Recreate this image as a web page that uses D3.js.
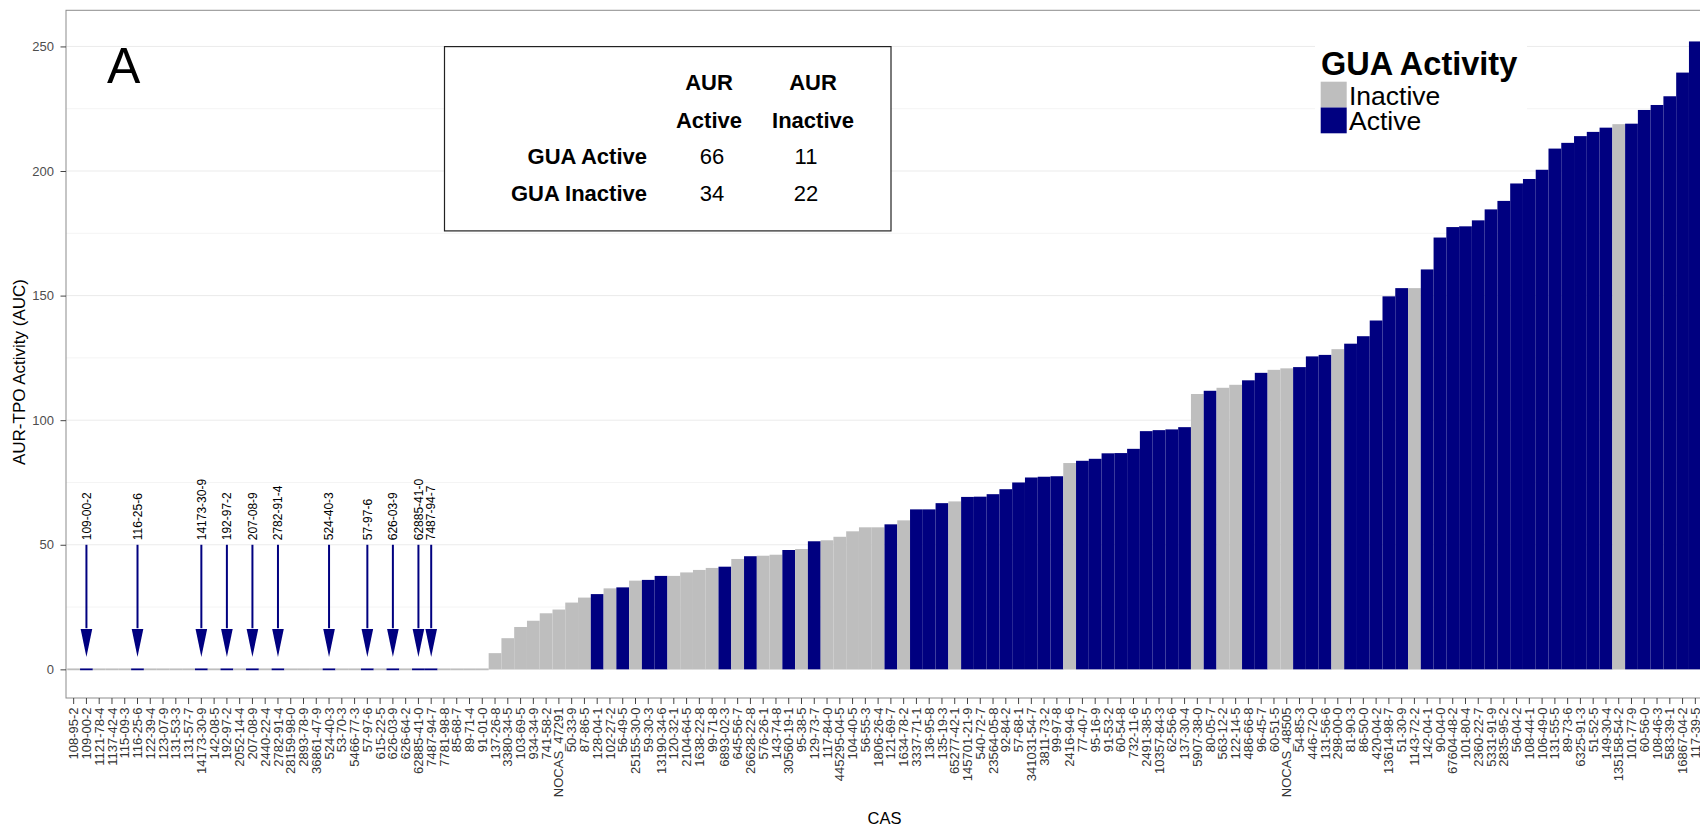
<!DOCTYPE html>
<html><head><meta charset="utf-8">
<script src="https://cdn.jsdelivr.net/npm/d3@7"></script>
<style>
body{margin:0;background:#fff}
svg{display:block}
text{font-family:"Liberation Sans",Arial,Helvetica,sans-serif}
</style>
</head><body>
<svg id="chart" width="1700" height="828"></svg>
<script>
// ---------------- data ----------------
const cas = [
"108-95-2","109-00-2","1121-78-4","1137-42-4","115-09-3","116-25-6","122-39-4","123-07-9","131-53-3","131-57-7",
"14173-30-9","142-08-5","192-97-2","2052-14-4","207-08-9","2440-22-4","2782-91-4","28159-98-0","2893-78-9","36861-47-9",
"524-40-3","53-70-3","5466-77-3","57-97-6","615-22-5","626-03-9","626-64-2","62885-41-0","7487-94-7","7781-98-8",
"85-68-7","89-71-4","91-01-0","137-26-8","3380-34-5","103-69-5","934-34-9","741-58-2","NOCAS_47291","50-33-9",
"87-86-5","128-04-1","102-27-2","56-49-5","25155-30-0","59-30-3","13190-34-6","120-32-1","2104-64-5","1638-22-8",
"99-71-8","6893-02-3","645-56-7","26628-22-8","576-26-1","143-74-8","30560-19-1","95-38-5","129-73-7","117-84-0",
"445295-04-5","104-40-5","56-55-3","1806-26-4","121-69-7","1634-78-2","3337-71-1","136-95-8","135-19-3","65277-42-1",
"145701-21-9","540-72-7","23564-05-8","92-84-2","57-68-1","341031-54-7","3811-73-2","99-97-8","2416-94-6","77-40-7",
"95-16-9","91-53-2","60-54-8","732-11-6","2491-38-5","10357-84-3","62-56-6","137-30-4","5907-38-0","80-05-7",
"563-12-2","122-14-5","486-66-8","96-45-7","60-51-5","NOCAS_48505","54-85-3","446-72-0","131-56-6","298-00-0",
"81-90-3","86-50-0","420-04-2","13614-98-7","51-30-9","1143-72-2","142-04-1","90-04-0","67604-48-2","101-80-4",
"2360-22-7","5331-91-9","2835-95-2","56-04-2","108-44-1","106-49-0","131-55-5","89-73-6","6325-91-3","51-52-5",
"149-30-4","135158-54-2","101-77-9","60-56-0","108-46-3","583-39-1","16867-04-2","117-39-5"
];
const auc = [
0,0,0,0,0,0,0,0,0,0,
0,0,0,0,0,0,0,0,0,0,
0,0,0,0,0,0,0,0,0,0,
0,0,0,6.5,12.5,17,19.5,22.5,24,26.8,
28.8,30.2,32.5,32.9,35.6,35.9,37.5,37.5,38.9,39.9,
40.7,41.2,44.3,45.4,45.6,46.0,47.9,48.3,51.4,51.8,
53.2,55.4,57.0,57.0,58.2,59.8,64.2,64.2,66.7,67.4,
69.2,69.3,70.3,72.3,75.0,77.0,77.3,77.5,82.8,83.7,
84.5,86.7,86.8,88.5,95.6,96.0,96.3,97.2,110.5,111.8,
113.0,114.2,116.0,119.0,120.2,120.8,121.3,125.6,126.2,128.5,
130.7,133.7,140.0,149.7,153.0,153.0,160.5,173.3,177.5,177.8,
180.2,184.6,188.0,195.0,196.8,200.5,209.0,211.3,214.0,215.7,
217.4,218.8,219.0,224.5,226.5,230.0,239.5,252.0
];
// GUA activity per compound: 1 = Active, 0 = Inactive
const guaActive = [
0,1,0,0,0,1,0,0,0,0,
1,0,1,0,1,0,1,0,0,0,
1,0,0,1,0,1,0,1,1,0,
0,0,0,0,0,0,0,0,0,0,
0,1,0,1,0,1,1,0,0,0,
0,1,0,1,0,0,1,0,1,0,
0,0,0,0,1,0,1,1,1,0,
1,1,1,1,1,1,1,1,0,1,
1,1,1,1,1,1,1,1,0,1,
0,0,1,1,0,0,1,1,1,0,
1,1,1,1,1,0,1,1,1,1,
1,1,1,1,1,1,1,1,1,1,
1,0,1,1,1,1,1,1
];
const arrowCas = ["109-00-2","116-25-6","14173-30-9","192-97-2","207-08-9","2782-91-4","524-40-3","57-97-6","626-03-9","62885-41-0","7487-94-7"];
const yTicks = [0,50,100,150,200,250];
const yMinorTicks = [25,75,125,175,225];
const legendTitle = "GUA Activity";
const legendKeys = ["Inactive","Active"];
const tableColHeaders = [["AUR","Active"],["AUR","Inactive"]];
const tableRowHeaders = ["GUA Active","GUA Inactive"];
const tableValues = [[66,11],[34,22]];
const panelLetter = "A";
const xTitle = "CAS";
const yTitle = "AUR-TPO Activity (AUC)";

// ---------------- layout ----------------
const svg = d3.select("#chart");
const P = {left:66, top:10.3, right:1703, bottom:698};
const n = cas.length;
const bw = (P.right - P.left) / (n + 0.2);
const x = d3.scaleBand().domain(cas).range([P.left + 0.1*bw, P.right - 0.1*bw]).padding(0);
const y = d3.scaleLinear().domain([-11.5, 264.5]).range([P.bottom, P.top]);
const color = d3.scaleOrdinal().domain(["Inactive","Active"]).range(["#BEBEBE","#000080"]);
const data = cas.map((c,i)=>({cas:c, v:auc[i], g: guaActive[i] ? "Active" : "Inactive"}));

svg.append("rect").attr("width",1700).attr("height",828).attr("fill","#fff");
svg.append("rect").attr("x",P.left).attr("y",P.top).attr("width",P.right-P.left).attr("height",P.bottom-P.top).attr("fill","#fff");

// gridlines
svg.append("g").selectAll("line").data(yMinorTicks).join("line")
  .attr("x1",P.left).attr("x2",P.right).attr("y1",d=>y(d)).attr("y2",d=>y(d))
  .attr("stroke","#F4F4F4").attr("stroke-width",1);
svg.append("g").selectAll("line").data(yTicks).join("line")
  .attr("x1",P.left).attr("x2",P.right).attr("y1",d=>y(d)).attr("y2",d=>y(d))
  .attr("stroke","#EBEBEB").attr("stroke-width",1);

// bars
svg.append("g").selectAll("rect").data(data).join("rect")
  .attr("x",d=>x(d.cas))
  .attr("width",x.bandwidth())
  .attr("y",d=> d.v>0 ? y(d.v) : y(0)-0.9)
  .attr("height",d=> d.v>0 ? y(0)-y(d.v) : 1.8)
  .attr("fill",d=>color(d.g));

// arrows
const ag = svg.append("g");
arrowCas.forEach(c=>{
  const cx = x(c) + x.bandwidth()/2;
  ag.append("line").attr("x1",cx).attr("x2",cx).attr("y1",y(50)).attr("y2",y(16.5))
    .attr("stroke","#000080").attr("stroke-width",2);
  ag.append("path")
    .attr("d",`M${cx-5.8},${y(16.2)}L${cx+5.8},${y(16.2)}L${cx},${y(5)}Z`)
    .attr("fill","#000080");
  ag.append("text").attr("transform",`translate(${cx},${y(51.8)}) rotate(-90)`)
    .attr("dy","0.35em").attr("font-size",12).attr("fill","#000").text(c);
});

// panel border
svg.append("rect").attr("x",P.left).attr("y",P.top).attr("width",P.right-P.left).attr("height",P.bottom-P.top)
  .attr("fill","none").attr("stroke","#8C8C8C").attr("stroke-width",1);

// y axis
const ya = svg.append("g").attr("transform",`translate(${P.left},0)`)
  .call(d3.axisLeft(y).tickValues(yTicks).tickSize(5.5).tickPadding(6.5));
ya.select(".domain").remove();
ya.selectAll("line").attr("stroke","#444");
ya.selectAll("text").attr("font-size",13).attr("fill","#4D4D4D").attr("font-family","Liberation Sans, Arial, sans-serif");

// x axis
const xa = svg.append("g").attr("transform",`translate(0,${P.bottom})`)
  .call(d3.axisBottom(x).tickSize(6).tickPadding(0));
xa.select(".domain").remove();
xa.selectAll("line").attr("stroke","#444");
xa.selectAll("text")
  .attr("transform","rotate(-90)").attr("x",-9.5).attr("y",0).attr("dy","0.35em")
  .attr("text-anchor","end").attr("font-size",13).attr("fill","#333")
  .attr("font-family","Liberation Sans, Arial, sans-serif");

// axis titles
svg.append("text").attr("x",(P.left+P.right)/2).attr("y",824).attr("text-anchor","middle")
  .attr("font-size",16.5).attr("fill","#000").text(xTitle);
svg.append("text").attr("transform",`translate(25,372) rotate(-90)`)
  .attr("text-anchor","middle").attr("font-size",17).attr("fill","#000").text(yTitle);

// panel letter
svg.append("text").attr("x",107).attr("y",83).attr("font-size",50).attr("fill","#000").text(panelLetter);

// contingency table
const T = {x:444.5, y:46.6, w:446.5, h:184.3};
const tg = svg.append("g");
tg.append("rect").attr("x",T.x).attr("y",T.y).attr("width",T.w).attr("height",T.h)
  .attr("fill","#fff").attr("stroke","#222").attr("stroke-width",1.2);
const colX = [709, 813];
const valX = [712, 806];
tableColHeaders.forEach((h,j)=>{
  h.forEach((s,k)=>{
    tg.append("text").attr("x",colX[j]).attr("y",90+k*37.5).attr("text-anchor","middle")
      .attr("font-size",22).attr("font-weight","bold").text(s);
  });
});
tableRowHeaders.forEach((r,i)=>{
  tg.append("text").attr("x",647).attr("y",164+i*37).attr("text-anchor","end")
    .attr("font-size",22).attr("font-weight","bold").text(r);
  tableValues[i].forEach((v,j)=>{
    tg.append("text").attr("x",valX[j]).attr("y",164+i*37).attr("text-anchor","middle")
      .attr("font-size",22).text(v);
  });
});

// legend
const lg = svg.append("g");
lg.append("rect").attr("x",1315).attr("y",38).attr("width",212).attr("height",102).attr("fill","#fff");
lg.append("text").attr("x",1321).attr("y",75).attr("font-size",32.5).attr("font-weight","bold").text(legendTitle);
legendKeys.forEach((k,i)=>{
  lg.append("rect").attr("x",1320.7).attr("y",81.7+i*25.8).attr("width",26).attr("height",25.8).attr("fill",color(k));
  lg.append("text").attr("x",1349).attr("y",105+i*25.4).attr("font-size",26.5).text(k);
});
</script>
</body></html>
